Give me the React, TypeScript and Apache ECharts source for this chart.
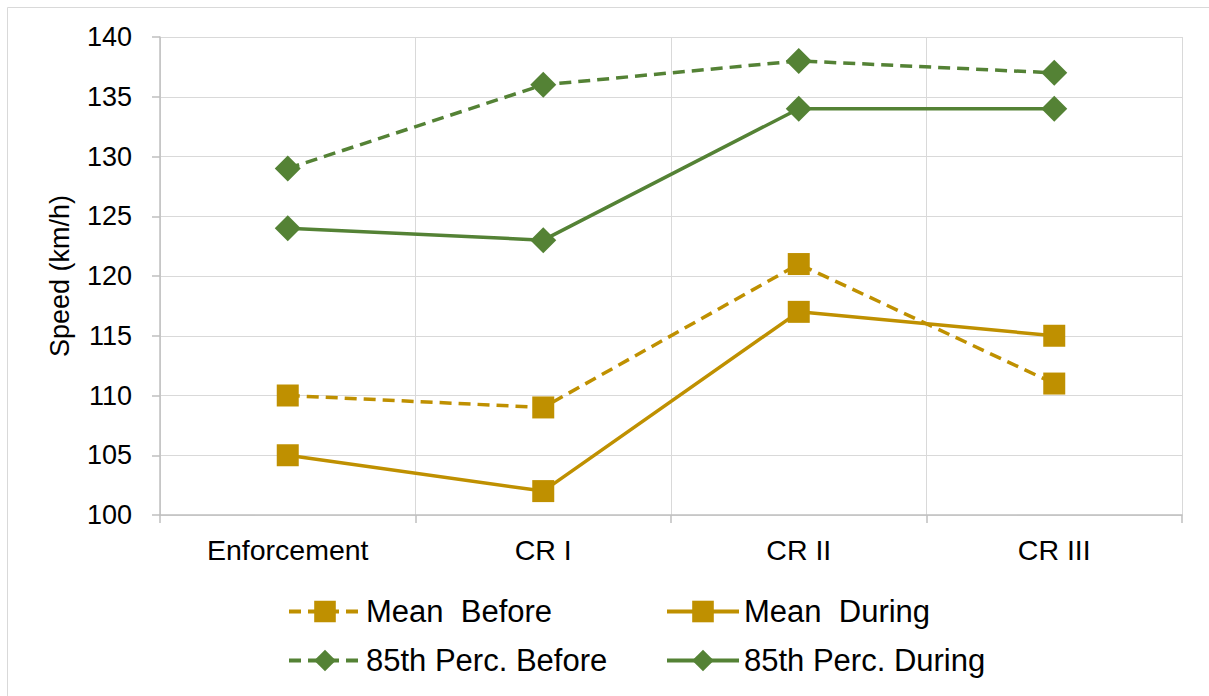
import React, { useEffect, useRef } from "react";
import * as echarts from "echarts";

const categories = ["Enforcement", "CR I", "CR II", "CR III"];
const meanBefore = [110, 109, 121, 111];
const meanDuring = [105, 102, 117, 115];
const p85Before = [129, 136, 138, 137];
const p85During = [124, 123, 134, 134];
const seriesNames = ["Mean  Before", "Mean  During", "85th Perc. Before", "85th Perc. During"];

const GOLD = "#BF9000";
const GREEN = "#548235";
const FONT = "Liberation Sans, Arial, sans-serif";

export default function App() {
  const ref = useRef<HTMLDivElement>(null);
  useEffect(() => {
    const chart = echarts.init(ref.current!, null, { renderer: "svg" });
    const mk = (name: string, data: number[], color: string, dashed: boolean, symbol: string, size: number) => ({
      name,
      type: "line",
      data,
      symbol,
      symbolSize: size,
      itemStyle: { color },
      lineStyle: { color, width: 3.5, type: dashed ? [12, 7] : "solid" },
    });
    const legendText = { fontSize: 31, fontFamily: FONT, color: "#000" };
    const lg = (name: string, left: number, top: number) => ({
      data: [name],
      left,
      top,
      itemWidth: 72,
      itemHeight: 27,
      itemGap: 6,
      textStyle: legendText,
      lineStyle: { width: 4 },
      selectedMode: false,
    });
    chart.setOption({
      animation: false,
      backgroundColor: "#fff",
      graphic: [
        {
          type: "rect",
          shape: { x: 7.5, y: 7.5, width: 1220, height: 720 },
          style: { fill: "none", stroke: "#d9d9d9", lineWidth: 1 },
          silent: true,
        },
      ],
      grid: { left: 160, right: 27, top: 37, bottom: 181 },
      xAxis: {
        type: "category",
        data: categories,
        boundaryGap: true,
        axisLine: { lineStyle: { color: "#bfbfbf", width: 1.5 } },
        axisTick: { show: true, length: 8, lineStyle: { color: "#bfbfbf", width: 1.5 } },
        splitLine: { show: true, lineStyle: { color: "#d9d9d9", width: 1 } },
        axisLabel: { fontSize: 28.5, fontFamily: FONT, color: "#000", margin: 20 },
      },
      yAxis: {
        type: "value",
        min: 100,
        max: 140,
        interval: 5,
        name: "Speed (km/h)",
        nameLocation: "middle",
        nameGap: 87,
        nameTextStyle: { fontSize: 27, fontFamily: FONT, color: "#000" },
        axisLine: { show: true, lineStyle: { color: "#bfbfbf", width: 1.5 } },
        axisTick: { show: true, length: 8, lineStyle: { color: "#bfbfbf", width: 1.5 } },
        splitLine: { show: true, lineStyle: { color: "#d9d9d9", width: 1 } },
        axisLabel: { fontSize: 27, fontFamily: FONT, color: "#000", margin: 28 },
      },
      legend: [
        lg(seriesNames[0], 282, 591),
        lg(seriesNames[1], 660, 591),
        lg(seriesNames[2], 282, 640),
        lg(seriesNames[3], 660, 640),
      ],
      series: [
        mk(seriesNames[0], meanBefore, GOLD, true, "rect", 22),
        mk(seriesNames[1], meanDuring, GOLD, false, "rect", 22),
        mk(seriesNames[2], p85Before, GREEN, true, "diamond", 26),
        mk(seriesNames[3], p85During, GREEN, false, "diamond", 26),
      ],
    });
    return () => chart.dispose();
  }, []);
  return <div ref={ref} style={{ position: "absolute", left: 0, top: 0, width: 1209, height: 696 }} />;
}
